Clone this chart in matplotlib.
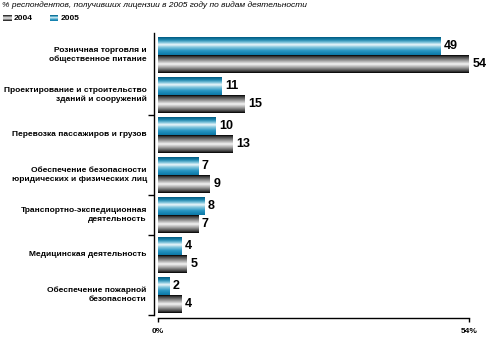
import numpy as np
import matplotlib
matplotlib.use("Agg")
import matplotlib.pyplot as plt
from matplotlib.colors import LinearSegmentedColormap
from matplotlib.patches import Rectangle

plt.rcParams.update({
    "font.family": ["Liberation Sans", "DejaVu Sans"],
    "font.size": 6,
})

categories = [
    "Розничная торговля и\nобщественное питание",
    "Проектирование и строительство\nзданий и сооружений",
    "Перевозка пассажиров и грузов",
    "Обеспечение безопасности\nюридических и физических лиц",
    "Транспортно-экспедиционная\nдеятельность",
    "Медицинская деятельность",
    "Обеспечение пожарной\nбезопасности",
]
vals_2004 = [54, 15, 13, 9, 7, 5, 4]
vals_2005 = [49, 11, 10, 7, 8, 4, 2]
x_max = 54
title = "% респондентов, получивших лицензии в 2005 году по видам деятельности"

# vertical gradients, top to bottom
blue_cmap = LinearSegmentedColormap.from_list("blue_bar", [
    (0.00, "#005a82"), (0.15, "#1c86ad"), (0.30, "#7cc4dc"),
    (0.42, "#eef8fb"), (0.55, "#8ccbe0"), (0.75, "#2c98c4"),
    (1.00, "#0a78a6")])
gray_cmap = LinearSegmentedColormap.from_list("gray_bar", [
    (0.00, "#000000"), (0.08, "#3a3a3a"), (0.30, "#9a9a9a"),
    (0.50, "#f6f6f6"), (0.68, "#a8a8a8"), (0.90, "#404040"),
    (1.00, "#000000")])

W, H = 490, 339
fig = plt.figure(figsize=(W / 100, H / 100), dpi=100)
ax = fig.add_axes([158 / W, 1 - 315 / H, (469 - 158) / W, (315 - 33) / H])

y = np.arange(len(categories))
bh = 0.45
bars05 = ax.barh(y - bh / 2, vals_2005, height=bh, color="none")
bars04 = ax.barh(y + bh / 2, vals_2004, height=bh, color="none")

grad = np.linspace(0, 1, 64).reshape(-1, 1)


def fill_gradient(bars, cmap):
    for p in bars.patches:
        x0, y0 = p.get_x(), p.get_y()
        w, h = p.get_width(), p.get_height()
        im = ax.imshow(grad, cmap=cmap, aspect="auto", interpolation="bilinear",
                       extent=[x0, x0 + w, y0 + h, y0], origin="upper", zorder=2)
        im.set_clip_path(p)


fill_gradient(bars05, blue_cmap)
fill_gradient(bars04, gray_cmap)

for bars in (bars05, bars04):
    for p in bars.patches:
        v = p.get_width()
        ax.text(v + 0.6, p.get_y() + p.get_height() / 2, f"{v:g}",
                ha="left", va="center", fontsize=9, fontweight="bold")

ax.set_xlim(0, x_max)
ax.set_ylim(6.5, -0.55)

for s in ("top", "right"):
    ax.spines[s].set_visible(False)
ax.spines["left"].set_position(("outward", 3))
ax.spines["bottom"].set_position(("outward", 2.5))
ax.spines["left"].set_linewidth(1.0)
ax.spines["bottom"].set_linewidth(1.0)

ax.set_xticks([0, x_max])
ax.set_xticklabels(["0%", f"{x_max}%"], fontweight="bold", fontsize=6)
ax.tick_params(axis="x", direction="out", length=3, width=1, pad=4)

ax.set_yticks([1.5, 3.5, 4.5, 6.5])
ax.set_yticklabels([])
ax.tick_params(axis="y", direction="out", length=4, width=1)

for i, label in enumerate(categories):
    ax.text(-0.036, i, label, transform=ax.get_yaxis_transform(),
            ha="right", va="center", fontsize=6, fontweight="bold",
            linespacing=1.35)

fig.text(2 / W, 1 - 5 / H, title, ha="left", va="center",
         fontsize=6, style="italic")

# legend swatches
leg_items = [("2004", gray_cmap, 3), ("2005", blue_cmap, 50)]
for name, cmap, x0 in leg_items:
    sax = fig.add_axes([x0 / W, 1 - 21 / H, 8 / W, 6 / H])
    sax.imshow(grad, cmap=cmap, aspect="auto", interpolation="bilinear")
    sax.set_axis_off()
    fig.text((x0 + 11) / W, 1 - 18 / H, name, ha="left", va="center",
             fontsize=6, fontweight="bold")

fig.savefig("out.png", dpi=100)
